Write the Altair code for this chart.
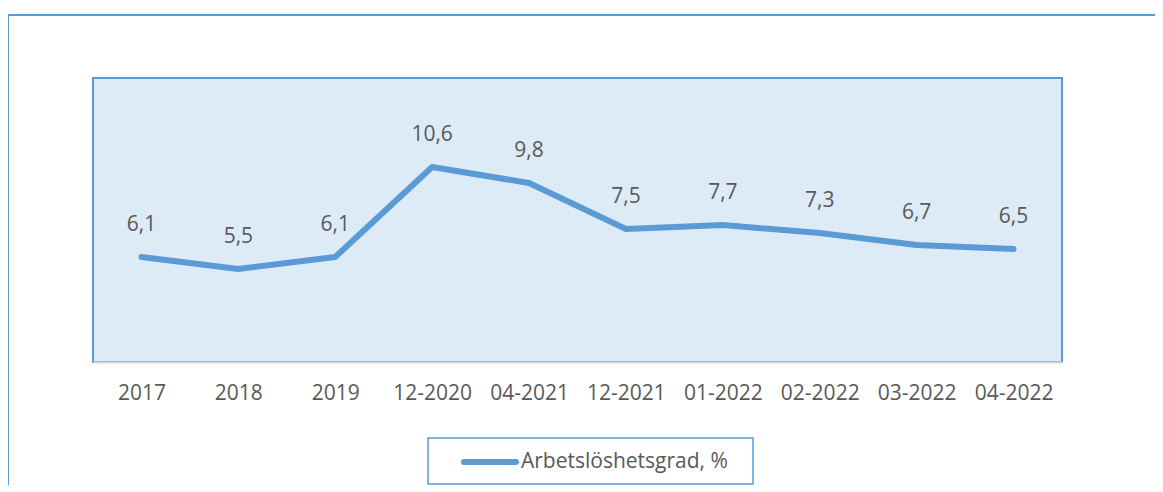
import altair as alt
import pandas as pd

categories = ["2017", "2018", "2019", "12-2020", "04-2021", "12-2021",
              "01-2022", "02-2022", "03-2022", "04-2022"]
values = [6.1, 5.5, 6.1, 10.6, 9.8, 7.5, 7.7, 7.3, 6.7, 6.5]
labels = ["6,1", "5,5", "6,1", "10,6", "9,8", "7,5", "7,7", "7,3", "6,7", "6,5"]
series_name = "Arbetslöshetsgrad, %"

df = pd.DataFrame({"cat": categories, "val": values, "lab": labels})

BLUE = "#5B9BD5"
TEXT = "#595959"
FONT = "Open Sans"
FS = 21

x = alt.X("cat:N", sort=categories,
          scale=alt.Scale(paddingInner=0, paddingOuter=0),
          axis=alt.Axis(title=None, labelAngle=0, ticks=False, labelPadding=31,
                        labelBaseline="middle",
                        labelFontSize=FS, labelColor=TEXT, labelFont=FONT,
                        domainColor="#D9D9D9", domainWidth=2))
y = alt.Y("val:Q", scale=alt.Scale(domain=[0.85, 15.05], nice=False, zero=False),
          axis=None)

base = alt.Chart(df)

line = base.mark_line(color=BLUE, strokeWidth=6, strokeCap="round",
                      strokeJoin="round").encode(x=x, y=y)
text = base.mark_text(dy=-32, baseline="middle", fontSize=FS, color=TEXT,
                      font=FONT).encode(x=x, y=y, text="lab:N")

# outer frame (top and left edges)
frame_top = alt.Chart(df).mark_rule(color=BLUE, strokeWidth=2, clip=False).encode(
    x=alt.value(-85), x2=alt.value(1075), y=alt.value(-63))
frame_left = alt.Chart(df).mark_rule(color=BLUE, strokeWidth=2, clip=False).encode(
    x=alt.value(-85), y=alt.value(-63), y2=alt.value(420))

# legend box
leg_df = pd.DataFrame({"name": [series_name]})
leg_box = alt.Chart(leg_df).mark_rect(fill="white", stroke=BLUE, strokeWidth=1.5,
                                      clip=False).encode(
    x=alt.value(335), x2=alt.value(660), y=alt.value(360), y2=alt.value(406))
leg_line = alt.Chart(leg_df).mark_rule(color=BLUE, strokeWidth=6, strokeCap="round",
                                       clip=False).encode(
    x=alt.value(371), x2=alt.value(423), y=alt.value(384))
leg_text = alt.Chart(leg_df).mark_text(align="left", baseline="middle", fontSize=FS,
                                       color=TEXT, font=FONT, clip=False).encode(
    x=alt.value(428), y=alt.value(384), text="name:N")

chart = alt.layer(frame_top, frame_left, line, text, leg_box, leg_line, leg_text).properties(
    width=969, height=284,
    autosize=alt.AutoSizeParams(type="none"),
    padding={"left": 85, "top": 70, "right": 93, "bottom": 123},
    background="white",
).configure_view(
    fill="#DDEBF7", stroke=BLUE, strokeWidth=2
)

chart.save("out.html", embed_options={"renderer": "svg", "actions": False})
